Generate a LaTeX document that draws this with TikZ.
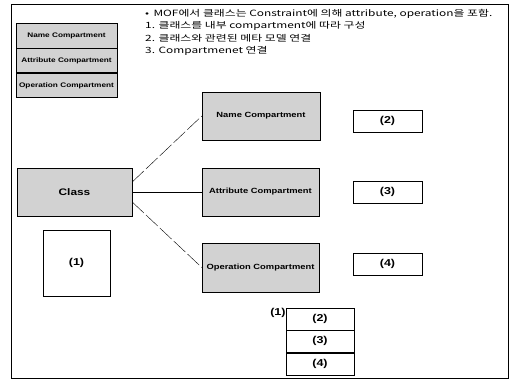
\documentclass[tikz,border=0pt]{standalone}
\usepackage{fontspec}
\setmainfont{Liberation Sans}
\newfontfamily\widefont[FakeStretch=1.25]{Liberation Sans}
\newfontfamily\krfont[FakeStretch=1.38]{Noto Sans CJK KR}
\usetikzlibrary{positioning}

\begin{document}
\begin{tikzpicture}[x=1pt,y=-1pt,
        part/.style={
            rectangle, thin, draw = black, fill = gray!35, inner sep = 0pt,
            font = \widefont\fontsize{7.5}{8}\selectfont\bfseries
        },
        legendpart/.style={
            part, minimum width = 101pt, minimum height = 24.5pt,
            font = \widefont\fontsize{6.6}{7}\selectfont\bfseries
        },
        numbox/.style={
            rectangle, thin, draw = black, fill = white, inner sep = 0pt,
            font = \widefont\fontsize{10}{11}\selectfont\bfseries
        },
        link/.style={
            thin, draw = black, dash pattern = on 16pt off 3pt
        },
    ]
    \useasboundingbox (0,0) rectangle (510,380);
    \draw [semithick] (11,4) rectangle (508,378);

    % legend in the upper left corner
    \node (legendName) [legendpart] at (66.5,35.5) {Name Compartment};
    \node (legendAttr) [legendpart, below=0pt of legendName] {Attribute Compartment};
    \node (legendOp) [legendpart, below=0pt of legendAttr] {Operation Compartment};

    \node (notes) [anchor=north west, align=left, inner sep=0pt, font=\krfont\fontsize{8.6}{12.5}\selectfont] at (145,9) {
        \textbullet\enspace MOF에서 클래스는 Constraint에 의해 attribute, operation을 포함. \\
        1. 클래스를 내부 compartment에 따라 구성 \\
        2. 클래스와 관련된 메타 모델 연결 \\
        3. Compartmenet 연결
    };

    \node (class) [part, minimum width=115pt, minimum height=48pt, font=\widefont\fontsize{9.5}{10}\selectfont\bfseries] at (74.5,192) {Class};
    \node (one) [numbox, minimum width=67pt, minimum height=66pt] at (76.5,263) {(1)};

    \node (nameComp) [part, minimum width=118pt, minimum height=48pt] at (261,116) {Name Compartment};
    \node (attrComp) [part, minimum width=117pt, minimum height=48pt] at (260.5,192) {Attribute Compartment};
    \node (opComp) [part, minimum width=117pt, minimum height=49pt] at (260.5,267.5) {Operation Compartment};

    \path (class.east) ++(0,-10) coordinate (classUp);
    \path (class.east) ++(0,10) coordinate (classDown);
    \draw [link] (classUp) -- (nameComp.west);
    \draw [thin] (class.east) -- (attrComp.west);
    \draw [link] (classDown) -- (opComp.west);

    \node (two) [numbox, minimum width=69pt, minimum height=22pt] at (387.5,121) {(2)};
    \node (three) [numbox, minimum width=69pt, minimum height=22pt] at (387.5,192) {(3)};
    \node (four) [numbox, minimum width=69pt, minimum height=22pt] at (387.5,264) {(4)};

    % the class drawn as one stack of compartments
    \node (stackTwo) [numbox, minimum width=68pt, minimum height=22pt] at (320,319) {(2)};
    \node (stackThree) [numbox, minimum width=68pt, minimum height=22pt, below=0pt of stackTwo] {(3)};
    \node (stackFour) [numbox, minimum width=68pt, minimum height=22pt, below=0pt of stackThree] {(4)};
    \node (stackOne) [inner sep=0pt, font=\widefont\fontsize{10}{11}\selectfont\bfseries, anchor=north east] at (stackTwo.north west) {(1)};
\end{tikzpicture}
\end{document}
